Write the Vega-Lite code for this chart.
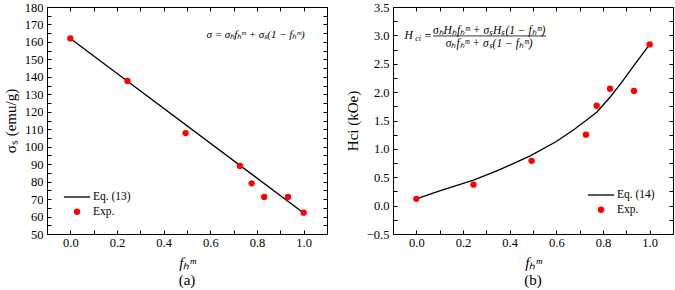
{
  "$schema": "https://vega.github.io/schema/vega-lite/v6.json",
  "padding": {"left": 2, "top": 0, "right": 1, "bottom": 0},
  "spacing": 16,
  "background": "white",
  "resolve": {"scale": {"color": "independent", "shape": "independent", "size": "independent"}, "legend": {"color": "independent", "shape": "independent", "size": "independent"}},
  "config": {
    "font": "Liberation Serif",
    "view": {"stroke": "black", "strokeWidth": 1},
    "axis": {
      "domain": false, "grid": false, "tickColor": "black", "tickSize": -4, "tickWidth": 1,
      "labelFont": "Liberation Serif", "labelFontSize": 12.5, "labelColor": "black", "labelPadding": 8,
      "labelOverlap": false, "labelFlush": false,
      "titleFont": "Liberation Serif", "titleFontSize": 15, "titleFontWeight": "normal", "titleColor": "black"
    },
    "legend": {"labelFont": "Liberation Serif", "labelFontSize": 11.5, "labelColor": "black"}
  },
  "datasets": {
    "expA": [
      {"f": 0.0, "v": 162, "series": "Exp."},
      {"f": 0.245, "v": 137.6, "series": "Exp."},
      {"f": 0.494, "v": 107.8, "series": "Exp."},
      {"f": 0.727, "v": 89, "series": "Exp."},
      {"f": 0.777, "v": 79, "series": "Exp."},
      {"f": 0.831, "v": 71.2, "series": "Exp."},
      {"f": 0.933, "v": 71.2, "series": "Exp."},
      {"f": 1.0, "v": 62.2, "series": "Exp."}
    ],
    "eqA": [
      {"f": 0.0, "v": 162},
      {"f": 1.0, "v": 62}
    ],
    "expB": [
      {"f": 0.0, "v": 0.12, "series": "Exp."},
      {"f": 0.245, "v": 0.37, "series": "Exp."},
      {"f": 0.494, "v": 0.79, "series": "Exp."},
      {"f": 0.727, "v": 1.25, "series": "Exp."},
      {"f": 0.773, "v": 1.76, "series": "Exp."},
      {"f": 0.83, "v": 2.06, "series": "Exp."},
      {"f": 0.933, "v": 2.02, "series": "Exp."},
      {"f": 1.0, "v": 2.84, "series": "Exp."}
    ],
    "eqB": [
      {"f": 0.0, "v": 0.12},
      {"f": 0.1, "v": 0.26},
      {"f": 0.245, "v": 0.45},
      {"f": 0.35, "v": 0.62},
      {"f": 0.49, "v": 0.88},
      {"f": 0.6, "v": 1.13},
      {"f": 0.676, "v": 1.34},
      {"f": 0.727, "v": 1.5},
      {"f": 0.773, "v": 1.645},
      {"f": 0.83, "v": 1.91},
      {"f": 0.88, "v": 2.17},
      {"f": 0.933, "v": 2.47},
      {"f": 1.0, "v": 2.84}
    ],
    "annA": [
      {"x": 0.794, "y": 164, "text": "σ = σₕfₕᵐ + σₛ(1 − fₕᵐ)"}
    ],
    "annB": [
      {"x": -0.033, "y": 2.99, "text": "H"},
      {"x": 0.312, "y": 3.085, "text": "σₕHₕfₕᵐ + σₛHₛ(1 − fₕᵐ)"},
      {"x": 0.312, "y": 2.855, "text": "σₕfₕᵐ + σₛ(1 − fₕᵐ)"}
    ],
    "annB2": [
      {"x": 0.008, "y": 2.99, "text": "ci"}
    ],
    "annB3": [
      {"x": 0.05, "y": 2.99, "text": "="}
    ],
    "barB": [
      {"x": 0.071, "x2": 0.556, "y": 2.99}
    ]
  },
  "hconcat": [
    {
      "width": 280, "height": 227,
      "title": {"text": "(a)", "orient": "bottom", "font": "Liberation Serif", "fontSize": 15, "fontWeight": "normal", "color": "black", "offset": 2},
      "resolve": {"axis": {"x": "independent", "y": "independent"}},
      "layer": [
        {
          "data": {"name": "eqA"},
          "mark": {"type": "line", "color": "black", "strokeWidth": 1.3},
          "encoding": {
            "x": {"field": "f", "type": "quantitative", "scale": {"domain": [-0.1, 1.1]},
                  "axis": {"orient": "top", "labels": false, "title": null,
                           "values": [-0.1, 0, 0.1, 0.2, 0.3, 0.4, 0.5, 0.6, 0.7, 0.8, 0.9, 1.0, 1.1]}},
            "y": {"field": "v", "type": "quantitative", "scale": {"domain": [50, 180]},
                  "axis": {"orient": "right", "labels": false, "title": null,
                           "values": [50, 55, 60, 65, 70, 75, 80, 85, 90, 95, 100, 105, 110, 115, 120, 125, 130, 135, 140, 145, 150, 155, 160, 165, 170, 175, 180]}}
          }
        },
        {
          "data": {"name": "expA"},
          "mark": {"type": "point", "filled": true, "opacity": 1},
          "encoding": {
            "x": {"field": "f", "type": "quantitative", "scale": {"domain": [-0.1, 1.1]},
                  "axis": {"orient": "bottom", "title": "fₕᵐ", "titleFontStyle": "italic", "titlePadding": 7, "format": ".1f", "labelPadding": 6,
                           "values": [-0.1, 0, 0.1, 0.2, 0.3, 0.4, 0.5, 0.6, 0.7, 0.8, 0.9, 1.0, 1.1],
                           "labelExpr": "datum.value > -0.001 && datum.value < 1.001 && abs(datum.value*5 - round(datum.value*5)) < 0.001 ? datum.label : ''"}},
            "y": {"field": "v", "type": "quantitative", "scale": {"domain": [50, 180]},
                  "axis": {"orient": "left", "title": "σₛ (emu/g)", "titlePadding": 6,
                           "values": [50, 55, 60, 65, 70, 75, 80, 85, 90, 95, 100, 105, 110, 115, 120, 125, 130, 135, 140, 145, 150, 155, 160, 165, 170, 175, 180],
                           "labelExpr": "datum.value % 10 === 0 ? datum.label : ''"}},
            "color": {"field": "series", "type": "nominal",
                      "scale": {"domain": ["Eq. (13)", "Exp."], "range": ["black", "red"]},
                      "legend": {"orient": "bottom-left", "offset": 16, "title": null, "labelOffset": 2, "rowPadding": 2}},
            "shape": {"field": "series", "type": "nominal",
                      "scale": {"domain": ["Eq. (13)", "Exp."], "range": ["M-1,-0.05H1V0.05H-1Z", "circle"]},
                      "legend": {"orient": "bottom-left", "offset": 16, "title": null, "labelOffset": 2, "rowPadding": 2}},
            "size": {"field": "series", "type": "nominal",
                     "scale": {"type": "ordinal", "domain": ["Eq. (13)", "Exp."], "range": [690, 40]},
                     "legend": {"orient": "bottom-left", "offset": 16, "title": null, "labelOffset": 2, "rowPadding": 2}}
          }
        },
        {
          "data": {"name": "annA"},
          "mark": {"type": "text", "font": "Liberation Serif", "fontStyle": "italic", "color": "black", "fontSize": 11},
          "encoding": {
            "x": {"field": "x", "type": "quantitative", "axis": null},
            "y": {"field": "y", "type": "quantitative", "axis": null},
            "text": {"field": "text"}
          }
        }
      ]
    },
    {
      "width": 280, "height": 227,
      "title": {"text": "(b)", "orient": "bottom", "font": "Liberation Serif", "fontSize": 15, "fontWeight": "normal", "color": "black", "offset": 2},
      "resolve": {"axis": {"x": "independent", "y": "independent"}},
      "layer": [
        {
          "data": {"name": "eqB"},
          "mark": {"type": "line", "color": "black", "strokeWidth": 1.3},
          "encoding": {
            "x": {"field": "f", "type": "quantitative", "scale": {"domain": [-0.1, 1.1]},
                  "axis": {"orient": "top", "labels": false, "title": null,
                           "values": [-0.1, 0, 0.1, 0.2, 0.3, 0.4, 0.5, 0.6, 0.7, 0.8, 0.9, 1.0, 1.1]}},
            "y": {"field": "v", "type": "quantitative", "scale": {"domain": [-0.5, 3.5]},
                  "axis": {"orient": "right", "labels": false, "title": null,
                           "values": [-0.5, -0.25, 0, 0.25, 0.5, 0.75, 1, 1.25, 1.5, 1.75, 2, 2.25, 2.5, 2.75, 3, 3.25, 3.5]}}
          }
        },
        {
          "data": {"name": "expB"},
          "mark": {"type": "point", "filled": true, "opacity": 1},
          "encoding": {
            "x": {"field": "f", "type": "quantitative", "scale": {"domain": [-0.1, 1.1]},
                  "axis": {"orient": "bottom", "title": "fₕᵐ", "titleFontStyle": "italic", "titlePadding": 7, "format": ".1f", "labelPadding": 6,
                           "values": [-0.1, 0, 0.1, 0.2, 0.3, 0.4, 0.5, 0.6, 0.7, 0.8, 0.9, 1.0, 1.1],
                           "labelExpr": "datum.value > -0.001 && datum.value < 1.001 && abs(datum.value*5 - round(datum.value*5)) < 0.001 ? datum.label : ''"}},
            "y": {"field": "v", "type": "quantitative", "scale": {"domain": [-0.5, 3.5]},
                  "axis": {"orient": "left", "title": "Hci (kOe)", "titlePadding": 6, "format": ".1f",
                           "values": [-0.5, -0.25, 0, 0.25, 0.5, 0.75, 1, 1.25, 1.5, 1.75, 2, 2.25, 2.5, 2.75, 3, 3.25, 3.5],
                           "labelExpr": "abs(datum.value*2 - round(datum.value*2)) < 0.001 ? datum.label : ''"}},
            "color": {"field": "series", "type": "nominal",
                      "scale": {"domain": ["Eq. (14)", "Exp."], "range": ["black", "red"]},
                      "legend": {"orient": "bottom-right", "offset": 18, "title": null, "labelOffset": 2, "rowPadding": 2}},
            "shape": {"field": "series", "type": "nominal",
                      "scale": {"domain": ["Eq. (14)", "Exp."], "range": ["M-1,-0.05H1V0.05H-1Z", "circle"]},
                      "legend": {"orient": "bottom-right", "offset": 18, "title": null, "labelOffset": 2, "rowPadding": 2}},
            "size": {"field": "series", "type": "nominal",
                     "scale": {"type": "ordinal", "domain": ["Eq. (14)", "Exp."], "range": [690, 40]},
                     "legend": {"orient": "bottom-right", "offset": 18, "title": null, "labelOffset": 2, "rowPadding": 2}}
          }
        },
        {
          "data": {"name": "barB"},
          "mark": {"type": "rule", "color": "black", "strokeWidth": 0.8},
          "encoding": {
            "x": {"field": "x", "type": "quantitative", "axis": null},
            "x2": {"field": "x2"},
            "y": {"field": "y", "type": "quantitative", "axis": null}
          }
        },
        {
          "data": {"name": "annB"},
          "mark": {"type": "text", "font": "Liberation Serif", "fontStyle": "italic", "color": "black", "fontSize": 11.5},
          "encoding": {
            "x": {"field": "x", "type": "quantitative", "axis": null},
            "y": {"field": "y", "type": "quantitative", "axis": null},
            "text": {"field": "text"}
          }
        },
        {
          "data": {"name": "annB2"},
          "mark": {"type": "text", "font": "Liberation Serif", "fontStyle": "italic", "color": "black", "fontSize": 8, "dy": 3},
          "encoding": {
            "x": {"field": "x", "type": "quantitative", "axis": null},
            "y": {"field": "y", "type": "quantitative", "axis": null},
            "text": {"field": "text"}
          }
        },
        {
          "data": {"name": "annB3"},
          "mark": {"type": "text", "font": "Liberation Serif", "color": "black", "fontSize": 12},
          "encoding": {
            "x": {"field": "x", "type": "quantitative", "axis": null},
            "y": {"field": "y", "type": "quantitative", "axis": null},
            "text": {"field": "text"}
          }
        }
      ]
    }
  ]
}
